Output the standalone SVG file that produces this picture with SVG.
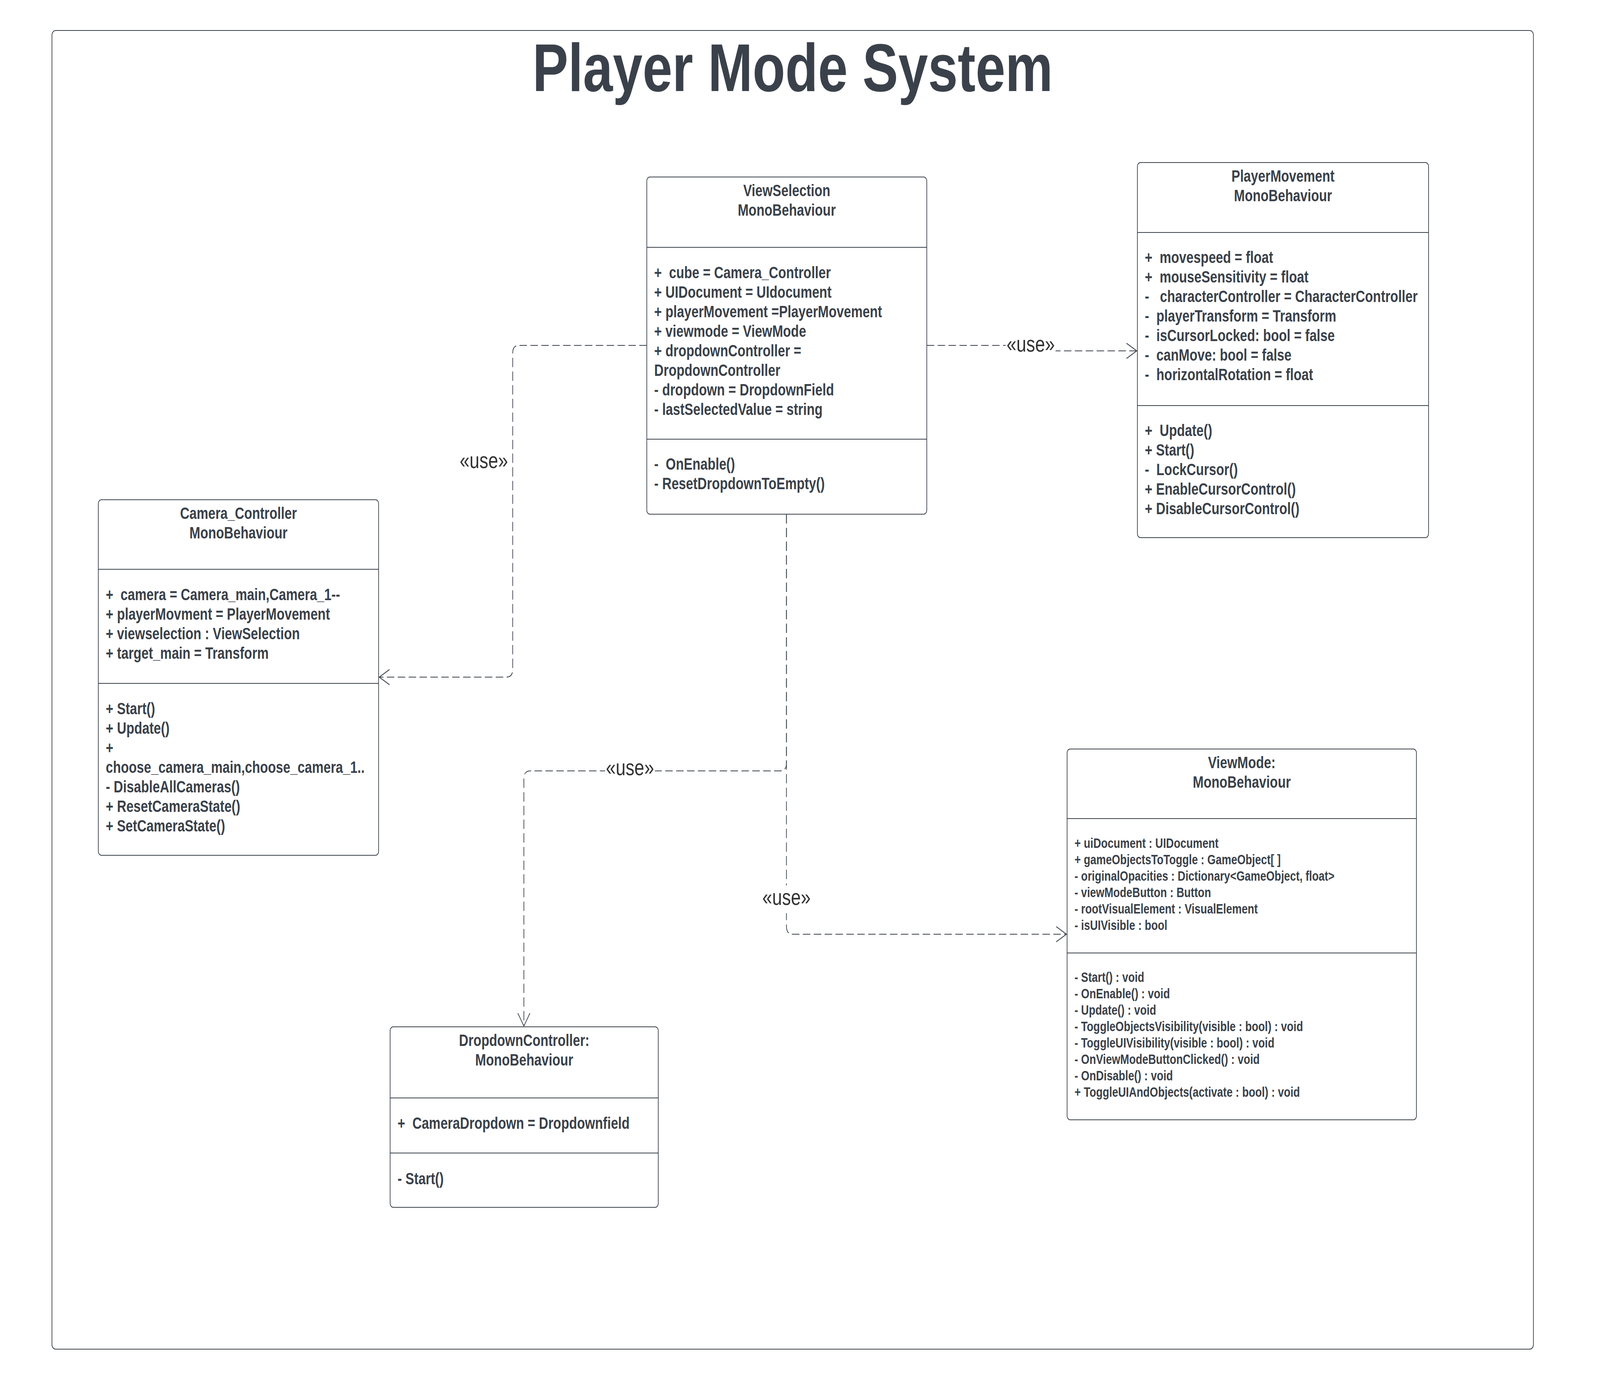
<svg xmlns="http://www.w3.org/2000/svg" width="5143" height="3514" viewBox="0 0 5143 3514" preserveAspectRatio="none" style="width:100%;height:100%;display:block">
<style>
.bg{fill:#ffffff}
.frame{fill:none;stroke:#3a414a;stroke-width:2.2}
.box{fill:#ffffff;stroke:#3a414a;stroke-width:2.2}
.div{stroke:#3a414a;stroke-width:2.2}
.t{font-family:"Liberation Sans",Arial,sans-serif;font-weight:bold;font-size:41.7px;fill:#3a414a;white-space:pre}
.c{text-anchor:middle}
.s{font-size:34.5px}
.title{font-family:"Liberation Sans",Arial,sans-serif;font-weight:bold;font-size:172px;fill:#3a414a;text-anchor:middle}
.conn{fill:none;stroke:#3a414a;stroke-width:2.2;stroke-dasharray:24 11}
.lbl{font-family:"Liberation Sans",Arial,sans-serif;font-size:57px;fill:#333333}
.lblbg{fill:#ffffff}
</style>
<defs>
<marker id="open" markerUnits="userSpaceOnUse" markerWidth="40" markerHeight="44" refX="36" refY="22" orient="auto" viewBox="0 0 40 44">
<path d="M3,2.5 L36,22 L3,41.5" fill="none" stroke="#3a414a" stroke-width="2.2" stroke-dasharray="none"/>
</marker>
</defs>
<rect class="bg" x="0" y="0" width="5143" height="3514"/>
<rect class="frame" x="167" y="78" width="4762" height="3375" rx="12"/>
<text class="title" x="2548" y="233">Player Mode System</text>

<g id="connectors">
<path class="conn" d="M2079 884 H1668 Q1648 884 1648 904 V1713 Q1648 1733 1628 1733 H1219" marker-end="url(#open)"/>
<path class="conn" d="M2979 884 H3313 V898 H3654" marker-end="url(#open)"/>
<path class="conn" d="M2528 1316 V1953 Q2528 1973 2508 1973 H1704 Q1684 1973 1684 1993 V2626" marker-end="url(#open)"/>
<path class="conn" d="M2528 1316 V2371 Q2528 2391 2548 2391 H3428" marker-end="url(#open)"/>
<text class="lbl" x="1633" y="1198" text-anchor="end">«use»</text>
<rect class="lblbg" x="3233" y="856" width="160" height="52"/>
<text class="lbl" x="3313" y="900" text-anchor="middle">«use»</text>
<rect class="lblbg" x="1945" y="1943" width="160" height="52"/>
<text class="lbl" x="2025" y="1984" text-anchor="middle">«use»</text>
<rect class="lblbg" x="2448" y="2266" width="160" height="71"/>
<text class="lbl" x="2528" y="2316" text-anchor="middle">«use»</text>
</g>

<g id="node-viewselection">
<rect class="box" x="2079" y="453" width="900" height="863" rx="10"/>
<line class="div" x1="2079" y1="633" x2="2979" y2="633"/>
<line class="div" x1="2079" y1="1124" x2="2979" y2="1124"/>
<text class="t c" x="2529" y="502">ViewSelection</text>
<text class="t c" x="2529" y="552">MonoBehaviour</text>
<text class="t" x="2103" y="712">+  cube = Camera_Controller</text>
<text class="t" x="2103" y="762">+ UIDocument = UIdocument</text>
<text class="t" x="2103" y="812">+ playerMovement =PlayerMovement</text>
<text class="t" x="2103" y="862">+ viewmode = ViewMode</text>
<text class="t" x="2103" y="912">+ dropdownController =</text>
<text class="t" x="2103" y="962">DropdownController</text>
<text class="t" x="2103" y="1012">- dropdown = DropdownField</text>
<text class="t" x="2103" y="1062">- lastSelectedValue = string</text>
<text class="t" x="2103" y="1202">-  OnEnable()</text>
<text class="t" x="2103" y="1252">- ResetDropdownToEmpty()</text>
</g>

<g id="node-playermovement">
<rect class="box" x="3656" y="416" width="936" height="960" rx="10"/>
<line class="div" x1="3656" y1="595" x2="4592" y2="595"/>
<line class="div" x1="3656" y1="1038" x2="4592" y2="1038"/>
<text class="t c" x="4124" y="465">PlayerMovement</text>
<text class="t c" x="4124" y="515">MonoBehaviour</text>
<text class="t" x="3680" y="673">+  movespeed = float</text>
<text class="t" x="3680" y="723">+  mouseSensitivity = float</text>
<text class="t" x="3680" y="773">-   characterController = CharacterController</text>
<text class="t" x="3680" y="823">-  playerTransform = Transform</text>
<text class="t" x="3680" y="873">-  isCursorLocked: bool = false</text>
<text class="t" x="3680" y="923">-  canMove: bool = false</text>
<text class="t" x="3680" y="973">-  horizontalRotation = float</text>
<text class="t" x="3680" y="1116">+  Update()</text>
<text class="t" x="3680" y="1166">+ Start()</text>
<text class="t" x="3680" y="1216">-  LockCursor()</text>
<text class="t" x="3680" y="1266">+ EnableCursorControl()</text>
<text class="t" x="3680" y="1316">+ DisableCursorControl()</text>
</g>

<g id="node-camera-controller">
<rect class="box" x="316" y="1279" width="901" height="910" rx="10"/>
<line class="div" x1="316" y1="1457" x2="1217" y2="1457"/>
<line class="div" x1="316" y1="1749" x2="1217" y2="1749"/>
<text class="t c" x="766.5" y="1328">Camera_Controller</text>
<text class="t c" x="766.5" y="1378">MonoBehaviour</text>
<text class="t" x="340" y="1536">+  camera = Camera_main,Camera_1--</text>
<text class="t" x="340" y="1586">+ playerMovment = PlayerMovement</text>
<text class="t" x="340" y="1636">+ viewselection : ViewSelection</text>
<text class="t" x="340" y="1686">+ target_main = Transform</text>
<text class="t" x="340" y="1828">+ Start()</text>
<text class="t" x="340" y="1878">+ Update()</text>
<text class="t" x="340" y="1928">+</text>
<text class="t" x="340" y="1978">choose_camera_main,choose_camera_1..</text>
<text class="t" x="340" y="2028">- DisableAllCameras()</text>
<text class="t" x="340" y="2078">+ ResetCameraState()</text>
<text class="t" x="340" y="2128">+ SetCameraState()</text>
</g>

<g id="node-viewmode">
<rect class="box" x="3430" y="1917" width="1123" height="949" rx="10"/>
<line class="div" x1="3430" y1="2095" x2="4553" y2="2095"/>
<line class="div" x1="3430" y1="2439" x2="4553" y2="2439"/>
<text class="t c" x="3991.5" y="1966">ViewMode:</text>
<text class="t c" x="3991.5" y="2016">MonoBehaviour</text>
<text class="t s" x="3454" y="2170">+ uiDocument : UIDocument</text>
<text class="t s" x="3454" y="2212">+ gameObjectsToToggle : GameObject[ ]</text>
<text class="t s" x="3454" y="2254">- originalOpacities : Dictionary&lt;GameObject, float&gt;</text>
<text class="t s" x="3454" y="2296">- viewModeButton : Button</text>
<text class="t s" x="3454" y="2338">- rootVisualElement : VisualElement</text>
<text class="t s" x="3454" y="2380">- isUIVisible : bool</text>
<text class="t s" x="3454" y="2513">- Start() : void</text>
<text class="t s" x="3454" y="2555">- OnEnable() : void</text>
<text class="t s" x="3454" y="2597">- Update() : void</text>
<text class="t s" x="3454" y="2639">- ToggleObjectsVisibility(visible : bool) : void</text>
<text class="t s" x="3454" y="2681">- ToggleUIVisibility(visible : bool) : void</text>
<text class="t s" x="3454" y="2723">- OnViewModeButtonClicked() : void</text>
<text class="t s" x="3454" y="2765">- OnDisable() : void</text>
<text class="t s" x="3454" y="2807">+ ToggleUIAndObjects(activate : bool) : void</text>
</g>

<g id="node-dropdowncontroller">
<rect class="box" x="1254" y="2628" width="862" height="462" rx="10"/>
<line class="div" x1="1254" y1="2810" x2="2116" y2="2810"/>
<line class="div" x1="1254" y1="2951" x2="2116" y2="2951"/>
<text class="t c" x="1685" y="2677">DropdownController:</text>
<text class="t c" x="1685" y="2727">MonoBehaviour</text>
<text class="t" x="1278" y="2889">+  CameraDropdown = Dropdownfield</text>
<text class="t" x="1278" y="3031">- Start()</text>
</g>
</svg>
